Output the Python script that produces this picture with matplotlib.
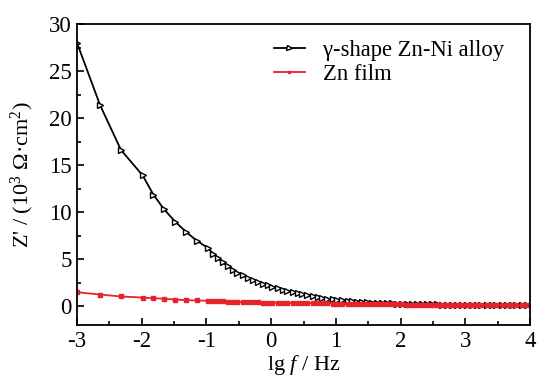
import matplotlib.pyplot as plt
import numpy as np

plt.rcParams['font.family'] = 'Liberation Serif'
plt.rcParams['mathtext.fontset'] = 'custom'
plt.rcParams['mathtext.rm'] = 'Liberation Serif'
plt.rcParams['mathtext.it'] = 'Liberation Serif:italic'

# lg f values (shared by both series)
lg_f = [-3.0, -2.645, -2.32, -1.985, -1.82, -1.655, -1.485, -1.315, -1.15, -0.98,
        -0.90, -0.82, -0.75, -0.67, -0.59, -0.52, -0.44, -0.36, -0.28, -0.21,
        -0.13, -0.05, 0.02, 0.10, 0.18, 0.25, 0.33, 0.41, 0.48, 0.56,
        0.64, 0.72, 0.79, 0.87, 0.95, 1.02, 1.10, 1.18, 1.25, 1.33,
        1.41, 1.48, 1.56, 1.64, 1.72, 1.79, 1.87, 1.95, 2.02, 2.10,
        2.18, 2.25, 2.33, 2.41, 2.48, 2.56, 2.64, 2.72, 2.79, 2.87,
        2.95, 3.02, 3.10, 3.18, 3.25, 3.33, 3.41, 3.48, 3.56, 3.64,
        3.72, 3.79, 3.87, 3.95]

# Z' (10^3 ohm cm^2), gamma-shape Zn-Ni alloy
z_znni = [28.0, 21.4, 16.6, 13.9, 11.86, 10.3, 9.0, 7.9, 6.97, 6.2,
          5.6, 5.1, 4.65, 4.25, 3.9, 3.58, 3.3, 3.03, 2.8, 2.58,
          2.38, 2.2, 2.04, 1.89, 1.74, 1.61, 1.48, 1.36, 1.25, 1.14,
          1.04, 0.95, 0.87, 0.80, 0.73, 0.67, 0.62, 0.57, 0.53, 0.49,
          0.45, 0.42, 0.39, 0.36, 0.34, 0.32, 0.30, 0.28, 0.26, 0.25,
          0.23, 0.22, 0.21, 0.20, 0.19, 0.18, 0.17, 0.16, 0.16, 0.15,
          0.15, 0.14, 0.14, 0.13, 0.13, 0.12, 0.12, 0.12, 0.11, 0.11,
          0.11, 0.10, 0.10, 0.10]

# Z' (10^3 ohm cm^2), Zn film
z_zn = [1.49, 1.24, 1.03, 0.92, 0.85, 0.79, 0.71, 0.64, 0.61, 0.57,
        0.55, 0.53, 0.51, 0.49, 0.47, 0.46, 0.44, 0.43, 0.42, 0.40,
        0.39, 0.38, 0.37, 0.36, 0.35, 0.35, 0.34, 0.33, 0.33, 0.32,
        0.31, 0.30, 0.30, 0.29, 0.28, 0.27, 0.27, 0.26, 0.25, 0.24,
        0.24, 0.23, 0.22, 0.21, 0.21, 0.20, 0.19, 0.19, 0.18, 0.17,
        0.17, 0.16, 0.16, 0.15, 0.15, 0.14, 0.14, 0.13, 0.13, 0.13,
        0.12, 0.12, 0.12, 0.11, 0.11, 0.11, 0.10, 0.10, 0.10, 0.10,
        0.09, 0.09, 0.09, 0.09]

fig = plt.figure(figsize=(5.4, 3.91), dpi=100)
ax = fig.add_axes([0.1426, 0.1688, 0.8389, 0.7698])

ax.plot(lg_f, z_znni, color='black', linewidth=1.3, marker='>', markersize=4.5,
        markerfacecolor='white', markeredgecolor='black', markeredgewidth=1.0,
        label=r'γ-shape Zn-Ni alloy')
ax.plot(lg_f, z_zn, color='#e8222a', linewidth=1.3, marker='s', markersize=2.6,
        markerfacecolor='#e8222a', markeredgecolor='#e8222a',
        label='Zn film')

ax.set_xlim(-3, 4)
ax.set_ylim(-2, 30)
ax.set_xticks(np.arange(-3, 5, 1))
ax.set_xticklabels(['-3', '-2', '-1', '0', '1', '2', '3', '4'])
ax.set_yticks(np.arange(0, 31, 5))
ax.set_xticks(np.arange(-2.5, 4, 1), minor=True)
ax.set_yticks(np.arange(2.5, 30, 5), minor=True)
ax.tick_params(which='both', direction='in', top=False, right=False, labelsize=16.5, width=1.2)
ax.tick_params(which='major', length=5, pad=4)
ax.tick_params(which='minor', length=3)
for s in ax.spines.values():
    s.set_linewidth(1.3)

ax.set_xlabel(r'lg $f$ / Hz', fontsize=16, labelpad=1)
ax.set_ylabel(r"Z' / (10$^{3}$ Ω·cm$^{2}$)", fontsize=16, labelpad=9)

ax.legend(loc='upper left', bbox_to_anchor=(0.4, 1.0), borderaxespad=0.3, frameon=False,
          fontsize=16.3, handlelength=1.35, handletextpad=0.8, labelspacing=0.15,
          markerscale=0.8)

fig.savefig('out.png', dpi=100)
